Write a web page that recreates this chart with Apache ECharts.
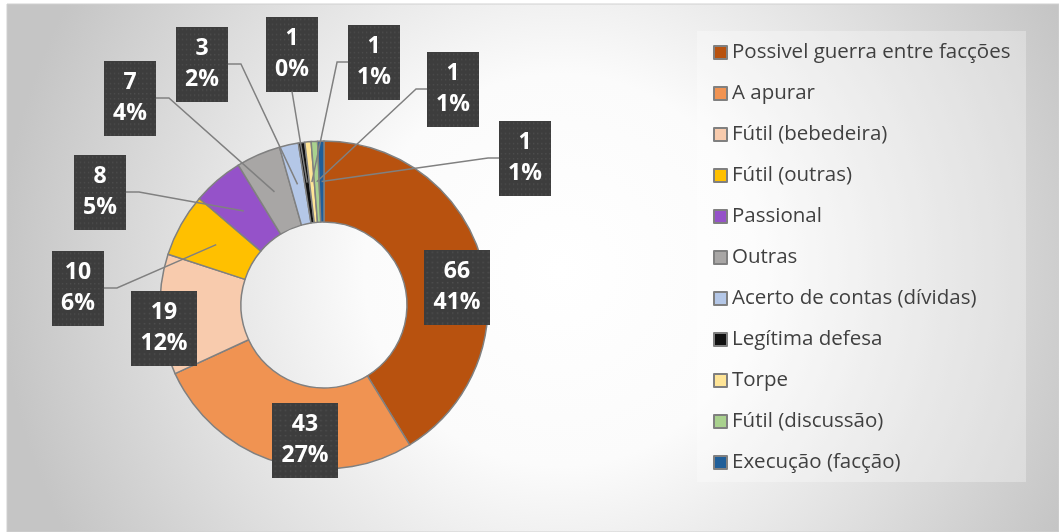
<!DOCTYPE html>
<html>
<head>
<meta charset="utf-8">
<title>Motivação</title>
<script src="https://cdn.jsdelivr.net/npm/echarts@6/dist/echarts.min.js"></script>
<style>
  html, body { margin: 0; padding: 0; background: #fff; }
  #chart { width: 1059px; height: 532px; }
</style>
</head>
<body>
<div id="chart"></div>
<script>
// dados
const categories = [
  'Possivel guerra entre facções', 'A apurar', 'Fútil (bebedeira)', 'Fútil (outras)',
  'Passional', 'Outras', 'Acerto de contas (dívidas)', 'Legítima defesa',
  'Torpe', 'Fútil (discussão)', 'Execução (facção)'
]
const values = [66, 43, 19, 10, 8, 7, 3, 1, 1, 1, 1]
const pctLabels = ['41%', '27%', '12%', '6%', '5%', '4%', '2%', '0%', '1%', '1%', '1%']

const colors = ['#B8520F', '#F09352', '#F8CBAD', '#FFC000', '#9552C9', '#A8A6A5',
  '#B4C7E7', '#111111', '#FFE597', '#A9D18E', '#1F5E99']

// centro das caixas de rótulo e de que lado sai a linha
const labelPos = [[457, 287], [305, 440], [164, 328], [78, 288], [100, 192], [130, 98],
  [202, 64], [292, 54], [374, 62], [453, 89], [525, 158]]
const lineSide = [null, null, null, 'r', 'r', 'r', 'r', 'b', 'l', 'l', 'l']

const center = [324, 305]
const radius = [83, 164]

const labelFont = { size: 23, lineHeight: 31, pad: [7, 9, 6, 9] }

// fundo pontilhado das caixas
function makeDots() {
  const c = document.createElement('canvas')
  c.width = 64
  c.height = 74
  const ctx = c.getContext('2d')
  ctx.fillStyle = '#3d3d3d'
  ctx.fillRect(0, 0, c.width, c.height)
  ctx.fillStyle = '#4f4f4f'
  for (let y = 2; y < c.height; y += 5) {
    for (let x = 2; x < c.width; x += 5) {
      ctx.fillRect(x, y, 1.5, 1.5)
    }
  }
  return c
}
const dots = makeDots()

// ângulo médio de cada fatia (a partir do topo, sentido horário)
const total = values.reduce((a, b) => a + b, 0)
const midAngles = []
let acc = 0
values.forEach(v => {
  midAngles.push((acc + v / 2) / total * Math.PI * 2)
  acc += v
})

// linhas de chamada: do meio do anel até a borda da caixa
const measure = document.createElement('canvas').getContext('2d')
measure.font = 'bold ' + labelFont.size + 'px "Open Sans"'
const rMid = (radius[0] + radius[1]) / 2
const leaderLines = []
values.forEach((v, i) => {
  const side = lineSide[i]
  if (!side) return
  const p = labelPos[i]
  const tw = Math.max(measure.measureText(String(v)).width, measure.measureText(pctLabels[i]).width)
  const w = tw + labelFont.pad[1] + labelFont.pad[3]
  const h = labelFont.lineHeight * 2 + labelFont.pad[0] + labelFont.pad[2]
  const a = midAngles[i]
  const s = [center[0] + rMid * Math.sin(a), center[1] - rMid * Math.cos(a)]
  let pts
  if (side === 'b') {
    pts = [s, [p[0], p[1] + h / 2]]
  } else if (side === 'r') {
    const ex = p[0] + w / 2
    pts = [s, [ex + 13, p[1]], [ex, p[1]]]
  } else {
    const ex = p[0] - w / 2
    pts = [s, [ex - 11, p[1]], [ex, p[1]]]
  }
  leaderLines.push({
    type: 'polyline',
    z: 3,
    silent: true,
    shape: { points: pts },
    style: { stroke: '#808080', lineWidth: 1.5, fill: null }
  })
})

const chart = echarts.init(document.getElementById('chart'))

chart.setOption({
  animation: false,
  color: colors,
  graphic: {
    elements: [{
      type: 'rect',
      z: -10,
      silent: true,
      shape: { x: 7, y: 4, width: 1052, height: 528 },
      style: {
        fill: new echarts.graphic.RadialGradient(560, 270, 560, [
          { offset: 0, color: '#ffffff' },
          { offset: 0.35, color: '#fbfbfb' },
          { offset: 1, color: '#c5c5c5' }
        ], true),
        stroke: '#d0d0d0',
        lineWidth: 1
      }
    }, {
      type: 'rect',
      z: -9,
      silent: true,
      shape: { x: 697, y: 31, width: 329, height: 451 },
      style: { fill: 'rgba(255,255,255,0.3)' }
    }].concat(leaderLines)
  },
  legend: {
    orient: 'vertical',
    left: 713,
    top: 42,
    padding: 0,
    itemWidth: 13,
    itemHeight: 13,
    itemGap: 20,
    icon: 'rect',
    selectedMode: false,
    textStyle: {
      fontFamily: 'Open Sans',
      fontSize: 20.5,
      color: '#404040'
    },
    data: categories
  },
  series: [{
    type: 'pie',
    center: center,
    radius: radius,
    startAngle: 90,
    clockwise: true,
    avoidLabelOverlap: false,
    itemStyle: {
      borderColor: '#808080',
      borderWidth: 1.5
    },
    emphasis: { disabled: true },
    label: {
      show: true,
      position: 'outside',
      formatter: p => p.value + '\n' + pctLabels[p.dataIndex],
      fontFamily: 'Open Sans',
      fontWeight: 'bold',
      fontSize: labelFont.size,
      lineHeight: labelFont.lineHeight,
      color: '#fff',
      align: 'center',
      padding: labelFont.pad,
      backgroundColor: { image: dots },
      shadowColor: 'rgba(0,0,0,0.45)',
      shadowBlur: 5,
      shadowOffsetX: 3,
      shadowOffsetY: 3
    },
    labelLine: { show: false },
    labelLayout: function (params) {
      const p = labelPos[params.dataIndex]
      return { x: p[0], y: p[1], align: 'center', verticalAlign: 'middle' }
    },
    data: categories.map((name, i) => ({ name: name, value: values[i] }))
  }]
})
</script>
</body>
</html>
